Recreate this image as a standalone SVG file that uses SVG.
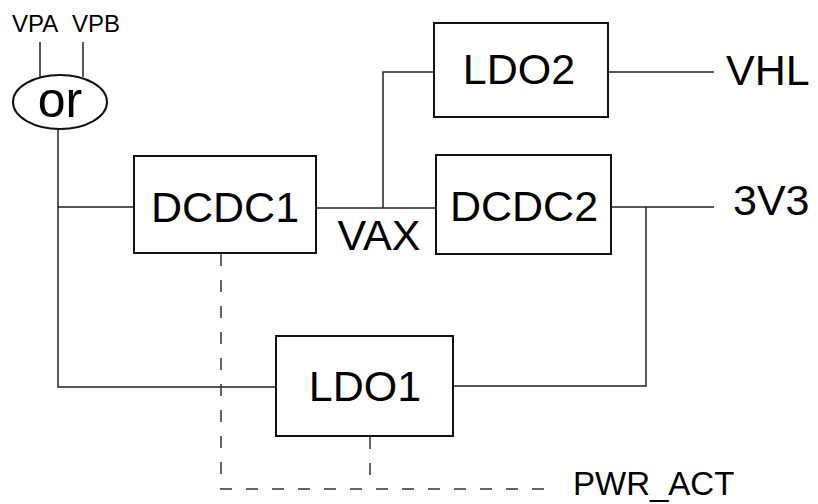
<svg xmlns="http://www.w3.org/2000/svg" width="818" height="504" viewBox="0 0 818 504">
<style>
.box{fill:#fff;stroke:#111;stroke-width:2}
.w{fill:none;stroke:#222;stroke-width:1.5}
.d{fill:none;stroke:#333;stroke-width:1.5;stroke-dasharray:12 14}
text{font-family:"Liberation Sans",Arial,sans-serif;fill:#000}
.big{font-size:43px}
.sm{font-size:24px}
</style>
<rect width="818" height="504" fill="#fff"/>
<g id="connectors">
<path class="w" d="M40,42V77M83,42V77"/>
<path class="w" d="M58,130V387H277M58,207H134"/>
<path class="w" d="M316,208H436M383,208V72H434"/>
<path class="w" d="M608,72H714"/>
<path class="w" d="M611,207H714M646,207V386H453"/>
<path class="d" d="M221,254V489H553"/>
<path class="d" d="M370,437V489"/>
</g>
<g id="or"><ellipse cx="60" cy="102" rx="47" ry="27" fill="#fff" stroke="#111" stroke-width="2"/><text x="60" y="117" font-size="50" text-anchor="middle">or</text></g>
<g id="vpa"><text class="sm" x="12" y="32">VPA</text></g>
<g id="vpb"><text class="sm" x="72" y="32">VPB</text></g>
<g id="dcdc1"><rect class="box" x="134" y="156" width="182" height="97"/><text class="big" x="225" y="222" text-anchor="middle">DCDC1</text></g>
<g id="vax"><text class="big" x="379" y="250" text-anchor="middle">VAX</text></g>
<g id="ldo2"><rect class="box" x="434" y="23" width="174" height="94"/><text class="big" x="519" y="84" text-anchor="middle">LDO2</text></g>
<g id="vhl"><text class="big" x="726" y="85">VHL</text></g>
<g id="dcdc2"><rect class="box" x="436" y="155" width="175" height="99"/><text class="big" x="524" y="221" text-anchor="middle">DCDC2</text></g>
<g id="v3v3"><text class="big" x="733" y="215">3V3</text></g>
<g id="ldo1"><rect class="box" x="276" y="336" width="177" height="100"/><text class="big" x="365" y="401" text-anchor="middle">LDO1</text></g>
<g id="pwr"><text x="573" y="495" font-size="33">PWR_ACT</text></g>
</svg>
